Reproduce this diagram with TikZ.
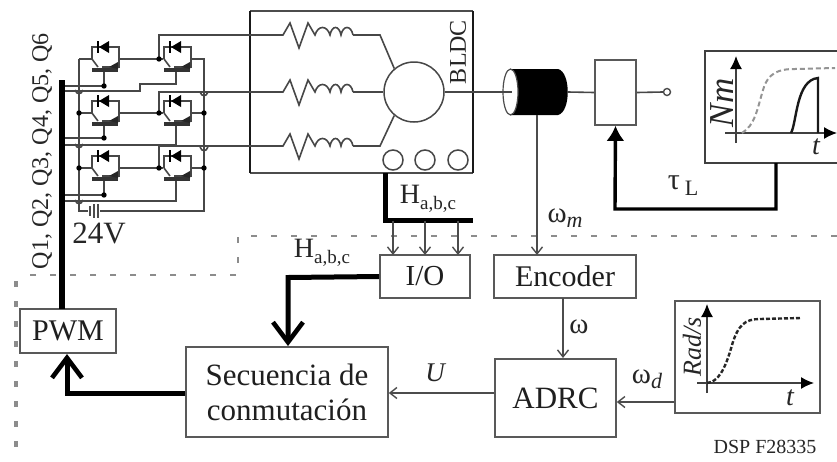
\documentclass[tikz,border=0pt]{standalone}
\usepackage{fontspec}
\setmainfont{Liberation Serif}
\usetikzlibrary{arrows.meta}
\newcommand{\fs}[1]{\fontsize{#1}{36}\selectfont}
\newcommand{\igbtsym}[2]{%
  \begin{scope}[shift={(#1,#2)}]
    \draw[wire] (-12,0) -- (-12,-12) -- (15,-12) -- (15,0);
    \fill[black] (5,-18) -- (5,-6) -- (-5,-12) -- cycle;
    \draw[line width=1.8pt] (-6,-18) -- (-6,-6);
    \draw[wire] (-12,0) -- (-6,8);
    \draw[line width=3.8pt,color=black!80] (-12,11) -- (14,11);
    \draw[wire] (15,0) -- (15,8) -- (-2,8);
    \fill[black!85] (14,3) -- (14,10) -- (5,8) -- cycle;
  \end{scope}}
\newcommand{\coilsym}[1]{%
  \draw[wire] (250,#1) -- (283,#1) -- (290,#1-12) -- (299,#1+13) -- (308,#1-12) -- (315,#1)
    .. controls (318,#1-10) and (327,#1-10) .. (330,#1)
    .. controls (332,#1-10) and (339,#1-10) .. (341,#1)
    .. controls (343,#1-10) and (351,#1-10) .. (353,#1);}
\newcommand{\bump}[2]{\draw[wire] (#1-4,#2-1) .. controls (#1-2,#2+4) and (#1+2,#2+4) .. (#1+4,#2-1);}
\tikzset{
  wire/.style={line width=1.6pt,color=black!72},
  thin line/.style={line width=1.4pt,color=black!70},
  heavy/.style={line width=5pt,color=black,line cap=butt},
  heavyarrow/.style={heavy,-{Straight Barb[length=20pt,width=30pt,line width=4.6pt]}},
  thinarrow/.style={thin line,-{Straight Barb[length=7pt,width=11pt,line width=1.4pt]}},
  box/.style={draw=black!65,line width=1.6pt,fill=white,inner sep=0pt,align=center,text=black!88},
  lbl/.style={inner sep=0pt,text=black!85},
  dashline/.style={color=black!45,line width=2.8pt,dash pattern=on 6pt off 14pt},
  filledaxis/.style={line width=1.4pt,color=black!75,-{Latex[length=13pt,width=12pt,black]}},
}
\begin{document}
\begin{tikzpicture}[x=1pt,y=-1pt]
\useasboundingbox (0,0) rectangle (837,461);
\fill[white] (0,0) rectangle (837,461);

% dashed DSP boundary
\draw[dashline] (837,236) -- (238,236) -- (238,275) -- (27,275);
\draw[dashline,line width=3.6pt] (16,281) -- (16,461);

% named ports
\coordinate (railTL) at (79,59);
\coordinate (railBL) at (79,211);
\coordinate (railTR) at (204,59);
\coordinate (railBR) at (204,211);

% motor box
\draw[line width=1.7pt,color=black!70] (250,11) -- (473,11);
\draw[line width=1.7pt,color=black!70] (250,173) -- (473,173);
\draw[line width=2.2pt,color=black!90] (250,11) -- (250,173);
\draw[line width=2.8pt,color=black!90] (473,11) -- (473,173);

% inverter wiring
\draw[wire] (railTL) -- (railBL) -- (88,211);
\draw[wire] (100,211) -- (railBR) -- (railTR) -- (191,59);
\draw[wire] (railTL) -- (92,59);
\draw[wire] (119,59) -- (163,59);
\draw[wire] (79,113) -- (92,113);
\draw[wire] (119,113) -- (163,113);
\draw[wire] (79,168) -- (92,168);
\draw[wire] (119,168) -- (163,168);
\draw[wire] (191,113) -- (204,113);
\draw[wire] (191,168) -- (204,168);
\draw[wire] (159,59) -- (159,35) -- (250,35);
\draw[wire] (159,113) -- (159,92) -- (250,92);
\draw[wire] (159,168) -- (159,146) -- (250,146);
\draw[wire] (104,72) -- (104,86) -- (62,86);
\draw[wire] (104,126) -- (104,138) -- (62,138);
\draw[wire] (104,181) -- (104,195) -- (62,195);
\draw[wire] (176,72) -- (176,84) -- (140,84) -- (140,91) -- (62,91);
\draw[wire] (176,126) -- (176,145) -- (62,145);
\draw[wire] (176,181) -- (176,201) -- (62,201);
\foreach \ypos in {59,113,168} {\igbtsym{104}{\ypos}\igbtsym{176}{\ypos}}
\foreach \px/\py in {79/113,79/168,159/59,159/113,159/168,204/113,204/168,104/86,104/138,104/195}
  {\fill[black] (\px,\py) circle (2.7pt);}
\foreach \ypos in {91,145,201} {\bump{79}{\ypos}}
\bump{204}{93}\bump{204}{148}
% capacitor
\draw[line width=1.8pt,color=black!70] (90,206) -- (90,216);
\draw[line width=1.8pt,color=black!70] (94,204) -- (94,218);
\draw[line width=1.8pt,color=black!70] (98,204) -- (98,218);

% windings and rotor
\coilsym{35}\coilsym{92}\coilsym{146}
\coordinate (wa) at (353,35);
\coordinate (wb) at (353,92);
\coordinate (wc) at (353,146);
\node[circle,draw=black!72,line width=1.5pt,minimum size=60pt,inner sep=0pt] (rotor) at (414,92) {};
\draw[wire] (wa) -- (380,35) -- (rotor.130);
\draw[wire] (wb) -- (rotor.west);
\draw[wire] (wc) -- (380,146) -- (rotor.230);
\node[circle,draw=black!72,line width=1.5pt,minimum size=20pt,inner sep=0pt] (ha) at (393,160) {};
\node[circle,draw=black!72,line width=1.5pt,minimum size=20pt,inner sep=0pt] (hb) at (425,160) {};
\node[circle,draw=black!72,line width=1.5pt,minimum size=20pt,inner sep=0pt] (hc) at (458,160) {};
\node[lbl,rotate=90] (bldc) at (458,52) {\fs{24}BLDC};

% mechanical load
\fill[black] (511,69) -- (558,69) .. controls (571,72) and (571,112) .. (558,115) -- (511,115) -- cycle;
\draw[wire] (rotor.east) -- (495,92);
\filldraw[fill=white,draw=black!70,line width=1.2pt] (510.5,92) ellipse (7.5pt and 23pt);
\draw[wire] (495,92) -- (512,92);
\node[box,minimum width=41pt,minimum height=65pt] (gear) at (615.5,92.5) {};
\draw[wire] (568,92) -- (gear.west);
\node[circle,draw=black!70,line width=1.4pt,minimum size=7pt,inner sep=0pt] (term) at (667,92) {};
\draw[wire] (gear.east) -- (term.west);

% torque plot
\draw[line width=1.6pt,color=black!75] (837,51) -- (705,51) -- (705,163) -- (837,163);
\coordinate (nmb) at (776,163);
\draw[filledaxis] (736,143) -- (736,56);
\draw[filledaxis] (725,133) -- (837,133);
\draw[color=black!42,line width=2pt,dash pattern=on 5pt off 3pt] (742,133)
  .. controls (755,125) and (757,110) .. (763,90)
  .. controls (768,73) and (778,69) .. (795,69) -- (835,68);
\draw[line width=2.4pt,color=black!90] (791,133) .. controls (797,122) and (796,80) .. (818,78) -- (818,133);
\node[lbl,rotate=90] (nm) at (722,103) {\fs{35}\itshape Nm};
\node[lbl] (tq) at (816,147) {\fs{28}\itshape t};

\draw[heavy,line width=3.4pt,-{Latex[length=15pt,width=18pt]}] (nmb) -- (776,209) -- (615,209) -- (gear.south);
\node[lbl] (tau) at (683,186) {\fs{30}τ\,\raisebox{-6pt}{\fs{22}L}};

% hall bus
\draw[heavy] (385,173) -- (385,220.5) -- (473,220.5);
\node[lbl] (hall1) at (428,199) {\fs{28}H\raisebox{-6pt}{\fs{19}a,b,c}};

% boxes
\node[box,minimum width=90pt,minimum height=43pt] (io) at (425,276.5) {\fs{29}I/O};
\node[box,minimum width=142pt,minimum height=43pt] (enc) at (565,276.5) {\fs{30}Encoder};
\node[box,minimum width=96pt,minimum height=44pt] (pwm) at (68,331) {\fs{30}PWM};
\node[box,font=\fontsize{31}{35}\selectfont,minimum width=202pt,minimum height=90pt] (seq) at (287,392) {Secuencia de\\conmutación};
\node[box,minimum width=121pt,minimum height=78pt] (adrc) at (555.5,398) {\fs{31}ADRC};
\node[box,minimum width=145pt,minimum height=112pt] (speed) at (747.5,357) {};

% signal connections
\draw[heavy,line width=5.4pt] (62,80) -- (62,309);
\foreach \px in {393,425,458} {\draw[thinarrow] (\px,220.5) -- (\px,255);}
\draw[thinarrow] (537,115) -- (537,255);
\draw[thinarrow] (563,298) -- (563,358);
\draw[heavyarrow] (io.west) -- (288,277.5) -- (288,346);
\draw[heavyarrow] (seq.west |- 0,393) -- (67,393) -- (67,354);
\draw[thinarrow] (adrc.west |- 0,393) -- (seq.east |- 0,393);
\draw[thinarrow] (speed.west |- 0,402) -- (adrc.east |- 0,402);

% speed plot
\draw[filledaxis] (707,393) -- (707,304);
\draw[filledaxis] (697,383) -- (814,383);
\draw[color=black!85,line width=2.4pt,dash pattern=on 4pt off 2pt] (707,383)
  .. controls (718,382) and (725,370) .. (732,345)
  .. controls (738,325) and (745,319) .. (760,319) -- (801,318);
\node[lbl,rotate=90] (rads) at (692,347) {\fs{26}\itshape Rad/s};
\node[lbl] (ts) at (790,398) {\fs{28}\itshape t};

% labels
\node[lbl,rotate=90] (qs) at (42,151) {\fs{24}Q1, Q2, Q3, Q4, Q5, Q6};
\node[lbl] (v24) at (99,233) {\fs{31}24V};
\node[lbl] (hall2) at (322,253) {\fs{28}H\raisebox{-6pt}{\fs{19}a,b,c}};
\node[lbl] (wm) at (565,218) {\fs{29}ω\raisebox{-5pt}{\fs{22}\itshape m}};
\node[lbl] (w) at (579,327) {\fs{29}ω};
\node[lbl] (uu) at (435,373) {\fs{27}\itshape U};
\node[lbl] (wd) at (647,379) {\fs{29}ω\raisebox{-5pt}{\fs{22}\itshape d}};
\node[lbl] (dsp) at (765,447) {\fs{20}DSP F28335};
\end{tikzpicture}
\end{document}
